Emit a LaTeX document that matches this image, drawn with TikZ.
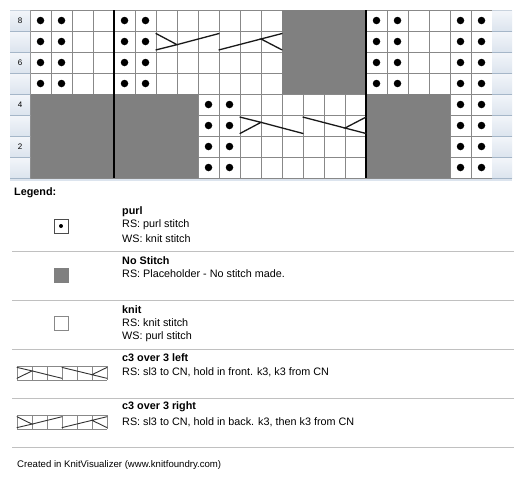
\documentclass[tikz,border=0pt]{standalone}
\usepackage{fontspec}
\setmainfont{Liberation Sans}
\usepackage{tikz}
\usetikzlibrary{positioning}
\usepackage{xcolor}
\definecolor{GridCol}{RGB}{136,136,136}
\definecolor{NoCol}{RGB}{128,128,128}
\definecolor{LabTop}{RGB}{243,246,250}
\definecolor{LabBot}{RGB}{220,228,238}
\definecolor{LabEdge}{RGB}{165,182,200}
\definecolor{SepCol}{RGB}{192,192,192}
\tikzstyle{GridLine}=[draw=GridCol,line width=0.9pt]
\tikzstyle{NoStitch}=[fill=NoCol]
\tikzstyle{Purl}=[circle,fill=black,inner sep=0pt,minimum size=7.5pt]
\tikzstyle{RepeatLine}=[line width=2.6pt,black]
\tikzstyle{CableLine}=[line width=1.3pt,black!90,line cap=round]
\tikzstyle{SmallCable}=[line width=0.9pt,black!80,line cap=round]
\tikzstyle{RowLabel}=[top color=LabTop,bottom color=LabBot,minimum width=20pt,
minimum height=21pt,inner sep=0pt,font=\fontsize{8}{8}\selectfont]
\tikzstyle{LegBox}=[draw=GridCol,fill=white,line width=0.9pt,minimum size=14pt,inner sep=0pt]
\tikzstyle{LegHead}=[anchor=west,inner sep=0pt,font=\bfseries\fontsize{10.8}{12}\selectfont]
\tikzstyle{LegText}=[anchor=west,inner sep=0pt,font=\fontsize{10.8}{12}\selectfont]
\tikzstyle{SepLine}=[draw=SepCol,line width=1pt]
% cable symbols: left x, top y, cell width, cell height, line style
\newcommand{\CableRight}[5]{%
  \draw[#5] ({#1},{#2+0.12*#4}) -- ({#1+#3},{#2+0.65*#4}) -- ({#1},{#2+0.9*#4});
  \draw[#5] ({#1+#3},{#2+0.65*#4}) -- ({#1+3*#3},{#2+0.12*#4});
  \draw[#5] ({#1+3*#3},{#2+0.9*#4}) -- ({#1+5*#3},{#2+0.38*#4});
  \draw[#5] ({#1+6*#3},{#2+0.12*#4}) -- ({#1+5*#3},{#2+0.38*#4}) -- ({#1+6*#3},{#2+0.9*#4});}
\newcommand{\CableLeft}[5]{%
  \draw[#5] ({#1},{#2+0.1*#4}) -- ({#1+#3},{#2+0.35*#4}) -- ({#1},{#2+0.88*#4});
  \draw[#5] ({#1+#3},{#2+0.35*#4}) -- ({#1+3*#3},{#2+0.88*#4});
  \draw[#5] ({#1+3*#3},{#2+0.1*#4}) -- ({#1+5*#3},{#2+0.62*#4});
  \draw[#5] ({#1+6*#3},{#2+0.1*#4}) -- ({#1+5*#3},{#2+0.62*#4}) -- ({#1+6*#3},{#2+0.88*#4});}

\begin{document}
\begin{tikzpicture}[x=1pt,y=-1pt]
        \useasboundingbox (0,0) rectangle (526,482);
        \fill[white] (0,0) rectangle (526,482);
        % chart
        \fill[white] (30,10) rectangle (492,178);
        \foreach \c in {0,...,22} \draw[GridLine] ({30+21*\c},10) -- ({30+21*\c},178);
        \foreach \r in {0,...,8} \draw[GridLine] (30,{10+21*\r}) -- (492,{10+21*\r});
        \fill[NoStitch] (282,10) rectangle (366,94);
        \fill[NoStitch] (30,94) rectangle (198,178);
        \fill[NoStitch] (366,94) rectangle (450,178);
        \draw[RepeatLine] (114,10) -- (114,178);
        \draw[RepeatLine] (366,10) -- (366,178);
        \foreach \r in {5,...,8}
            \foreach \c in {1,2,5,6,17,18,21,22}
                \node[Purl] (p\c-\r) at ({21*\c+19.5},{188.5-21*\r}) {};
        \foreach \r in {1,...,4}
            \foreach \c in {9,10,21,22}
                \node[Purl] (p\c-\r) at ({21*\c+19.5},{188.5-21*\r}) {};
        \CableRight{156}{31}{21}{21}{CableLine}
        \CableLeft{240}{115}{21}{21}{CableLine}
        % row numbers
        \foreach \r in {1,...,8} {
            \node[RowLabel] (left\r) at (20,{188.5-21*\r}) {\ifodd\r\else\r\fi};
            \node[RowLabel] (right\r) at (502,{188.5-21*\r}) {\ifodd\r\r\fi};
            \draw[LabEdge,line width=1pt] (10,{199-21*\r}) -- (30,{199-21*\r});
            \draw[LabEdge,line width=1pt] (492,{199-21*\r}) -- (512,{199-21*\r});
        }
        \draw[LabEdge!60,line width=1pt] (10,10) -- (30,10);
        \draw[LabEdge!60,line width=1pt] (492,10) -- (512,10);
        \fill[LabBot] (10,178.5) rectangle (512,181);
        % legend
        \node[LegHead] (legend) at (14,193) {Legend:};
        \node[LegBox,draw=black!70] (symPurl) at (61,226) {};
        \node[Purl,minimum size=4pt] (dotPurl) at (symPurl) {};
        \node[LegHead] (tPurl) at (122,212) {purl};
        \node[LegText] (aPurl) at (122,225) {RS: purl stitch};
        \node[LegText] (bPurl) at (122,239) {WS: knit stitch};
        \draw[SepLine] (12,251) -- (514,251);
        \node[LegBox,NoStitch,draw=NoCol] (symNo) at (61,275) {};
        \node[LegHead] (tNo) at (122,261) {No Stitch};
        \node[LegText] (aNo) at (122,274) {RS: Placeholder - No stitch made.};
        \draw[SepLine] (12,300) -- (514,300);
        \node[LegBox] (symKnit) at (61,323) {};
        \node[LegHead] (tKnit) at (122,310) {knit};
        \node[LegText] (aKnit) at (122,323) {RS: knit stitch};
        \node[LegText] (bKnit) at (122,337) {WS: purl stitch};
        \draw[SepLine] (12,349) -- (514,349);
        \foreach \c in {0,...,6} \draw[GridLine] ({17+15*\c},366) -- ({17+15*\c},380);
        \draw[GridLine] (17,366) -- (107,366);
        \draw[GridLine] (17,380) -- (107,380);
        \CableLeft{17}{366}{15}{14}{SmallCable}
        \node[LegHead] (tLeft) at (122,358) {c3 over 3 left};
        \node[LegText] (aLeft) at (122,372) {RS: sl3 to CN, hold in front. k3, k3 from CN};
        \draw[SepLine] (12,398) -- (514,398);
        \foreach \c in {0,...,6} \draw[GridLine] ({17+15*\c},415) -- ({17+15*\c},429);
        \draw[GridLine] (17,415) -- (107,415);
        \draw[GridLine] (17,429) -- (107,429);
        \CableRight{17}{415}{15}{14}{SmallCable}
        \node[LegHead] (tRight) at (122,407) {c3 over 3 right};
        \node[LegText] (aRight) at (122,422) {RS: sl3 to CN, hold in back. k3, then k3 from CN};
        \draw[SepLine] (12,447) -- (514,447);
        \node[LegText,font=\fontsize{9.6}{11}\selectfont] (credit) at (17,465) {Created in KnitVisualizer (www.knitfoundry.com)};
    \end{tikzpicture}
\end{document}
